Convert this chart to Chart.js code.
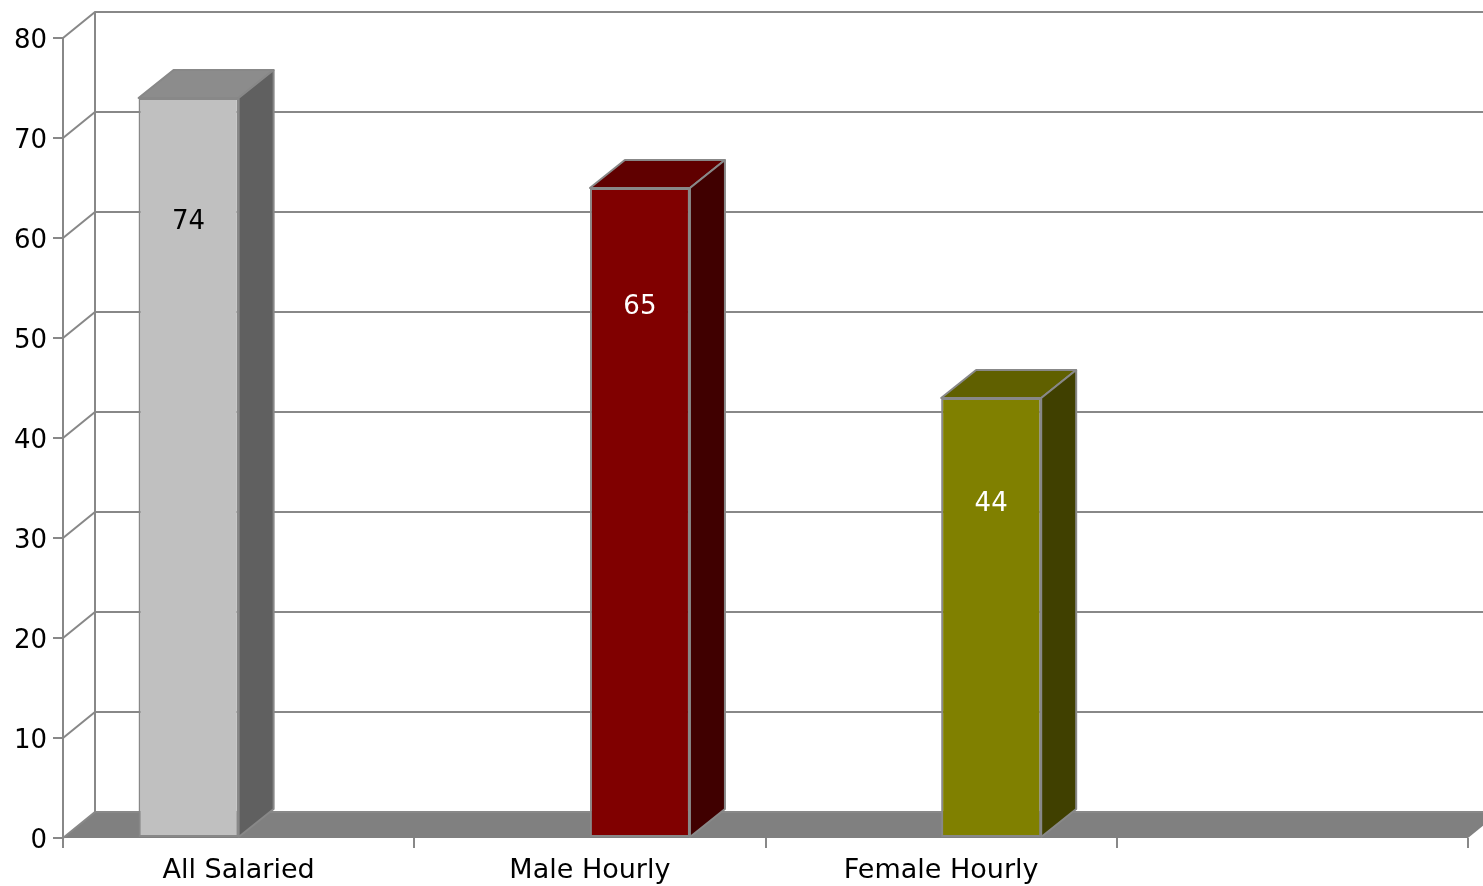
<!DOCTYPE html>
<html lang="en">
<head>
    <meta charset="UTF-8">
    <title>3D Column Chart</title>
    <style>
        body { margin: 0; background: #fff; }
        canvas { display: block; }
    </style>
    <script src="https://cdn.jsdelivr.net/npm/chart.js"></script>
</head>
<body>
<canvas id="myChart" width="1483" height="886"></canvas>
<script>
    // Data
    const categories = ['All Salaried', 'Male Hourly', 'Female Hourly', ''];
    const salaried = [74, null, null, null];
    const hourly = [null, 65, 44, null];

    // Colours (front, top, side) per category
    const frontColors = ['#C0C0C0', '#800000', '#808000', '#808080'];
    const topColors = ['#8C8C8C', '#600000', '#606000', '#606060'];
    const sideColors = ['#606060', '#400000', '#404000', '#404040'];
    const labelColors = ['#000', '#fff', '#fff', '#fff'];

    const lineGray = '#888';
    const WALL_DX = 32, WALL_DY = -26;   // depth of the back wall
    const BAR_DX = 35, BAR_DY = -28;     // depth of the columns

    Chart.defaults.font.family = '"DejaVu Sans", Verdana, sans-serif';
    Chart.defaults.font.size = 26;
    Chart.defaults.color = '#000';

    // Walls, gridlines and floor behind the bars
    const wallPlugin = {
        id: 'wallPlugin',
        beforeDatasetsDraw(chart) {
            const ctx = chart.ctx;
            const ys = chart.scales.y;
            const a = chart.chartArea;
            ctx.save();
            // floor
            ctx.fillStyle = '#808080';
            ctx.beginPath();
            ctx.moveTo(a.left, a.bottom);
            ctx.lineTo(a.right, a.bottom);
            ctx.lineTo(a.right + WALL_DX, a.bottom + WALL_DY);
            ctx.lineTo(a.left + WALL_DX, a.bottom + WALL_DY);
            ctx.closePath();
            ctx.fill();

            ctx.strokeStyle = lineGray;
            ctx.lineWidth = 2;
            ys.ticks.forEach(t => {
                const y = ys.getPixelForValue(t.value);
                ctx.beginPath();
                ctx.moveTo(a.left, y);
                ctx.lineTo(a.left + WALL_DX, y + WALL_DY);
                ctx.lineTo(chart.width + 5, y + WALL_DY);
                ctx.stroke();
            });
            // back wall corner
            ctx.beginPath();
            ctx.moveTo(a.left + WALL_DX, ys.getPixelForValue(ys.max) + WALL_DY);
            ctx.lineTo(a.left + WALL_DX, ys.getPixelForValue(0) + WALL_DY);
            ctx.stroke();
            ctx.restore();
        }
    };

    // Top and side faces of the columns, plus value labels
    const columnPlugin = {
        id: 'columnPlugin',
        afterDatasetsDraw(chart) {
            const ctx = chart.ctx;
            const ys = chart.scales.y;
            ctx.save();
            ctx.strokeStyle = lineGray;
            ctx.lineWidth = 2;
            ctx.lineJoin = 'round';
            chart.data.datasets.forEach((ds, di) => {
                const meta = chart.getDatasetMeta(di);
                meta.data.forEach((bar, i) => {
                    if (ds.data[i] == null) return;
                    const p = bar.getProps(['x', 'y', 'base', 'width'], true);
                    const l = p.x - p.width / 2, r = p.x + p.width / 2;
                    // top
                    ctx.fillStyle = topColors[i];
                    ctx.beginPath();
                    ctx.moveTo(l, p.y);
                    ctx.lineTo(r, p.y);
                    ctx.lineTo(r + BAR_DX, p.y + BAR_DY);
                    ctx.lineTo(l + BAR_DX, p.y + BAR_DY);
                    ctx.closePath();
                    ctx.fill();
                    ctx.stroke();
                    // side
                    ctx.fillStyle = sideColors[i];
                    ctx.beginPath();
                    ctx.moveTo(r, p.y);
                    ctx.lineTo(r + BAR_DX, p.y + BAR_DY);
                    ctx.lineTo(r + BAR_DX, p.base + BAR_DY);
                    ctx.lineTo(r, p.base);
                    ctx.closePath();
                    ctx.fill();
                    ctx.stroke();
                });
            });
            // value labels
            ctx.font = '26px "DejaVu Sans", Verdana, sans-serif';
            ctx.textAlign = 'center';
            ctx.textBaseline = 'middle';
            chart.data.datasets.forEach((ds, di) => {
                const meta = chart.getDatasetMeta(di);
                meta.data.forEach((bar, i) => {
                    const v = ds.data[i];
                    if (v == null) return;
                    ctx.fillStyle = labelColors[i];
                    ctx.fillText(String(v), bar.x, ys.getPixelForValue(v * 0.94 - 8));
                });
            });
            ctx.restore();
        }
    };

    new Chart(document.getElementById('myChart'), {
        type: 'bar',
        data: {
            labels: categories,
            datasets: [
                {
                    label: 'Salaried',
                    data: salaried,
                    backgroundColor: frontColors,
                    borderColor: lineGray,
                    borderWidth: 2,
                    borderSkipped: false
                },
                {
                    label: 'Hourly',
                    data: hourly,
                    backgroundColor: frontColors,
                    borderColor: lineGray,
                    borderWidth: 2,
                    borderSkipped: false
                }
            ]
        },
        options: {
            responsive: false,
            animation: false,
            devicePixelRatio: 1,
            layout: { padding: { top: 38, right: 15, left: 0, bottom: 0 } },
            datasets: {
                bar: { barPercentage: 1, categoryPercentage: 200 / 351 }
            },
            plugins: {
                legend: { display: false },
                tooltip: { enabled: false }
            },
            scales: {
                x: {
                    grid: {
                        offset: true,
                        drawOnChartArea: false,
                        drawTicks: true,
                        tickLength: 10,
                        color: lineGray,
                        lineWidth: 2
                    },
                    border: { display: false },
                    ticks: { padding: 7, maxRotation: 0, font: { size: 27 } },
                    afterFit(scale) { scale.height = 48; }
                },
                y: {
                    min: 0,
                    max: 80,
                    ticks: { stepSize: 10, padding: 6, labelOffset: 3 },
                    grid: {
                        drawOnChartArea: false,
                        tickLength: 10,
                        color: lineGray,
                        lineWidth: 2
                    },
                    border: { display: true, color: lineGray, width: 2 },
                    afterFit(scale) { scale.width = 63; }
                }
            }
        },
        plugins: [wallPlugin, columnPlugin]
    });
</script>
</body>
</html>
